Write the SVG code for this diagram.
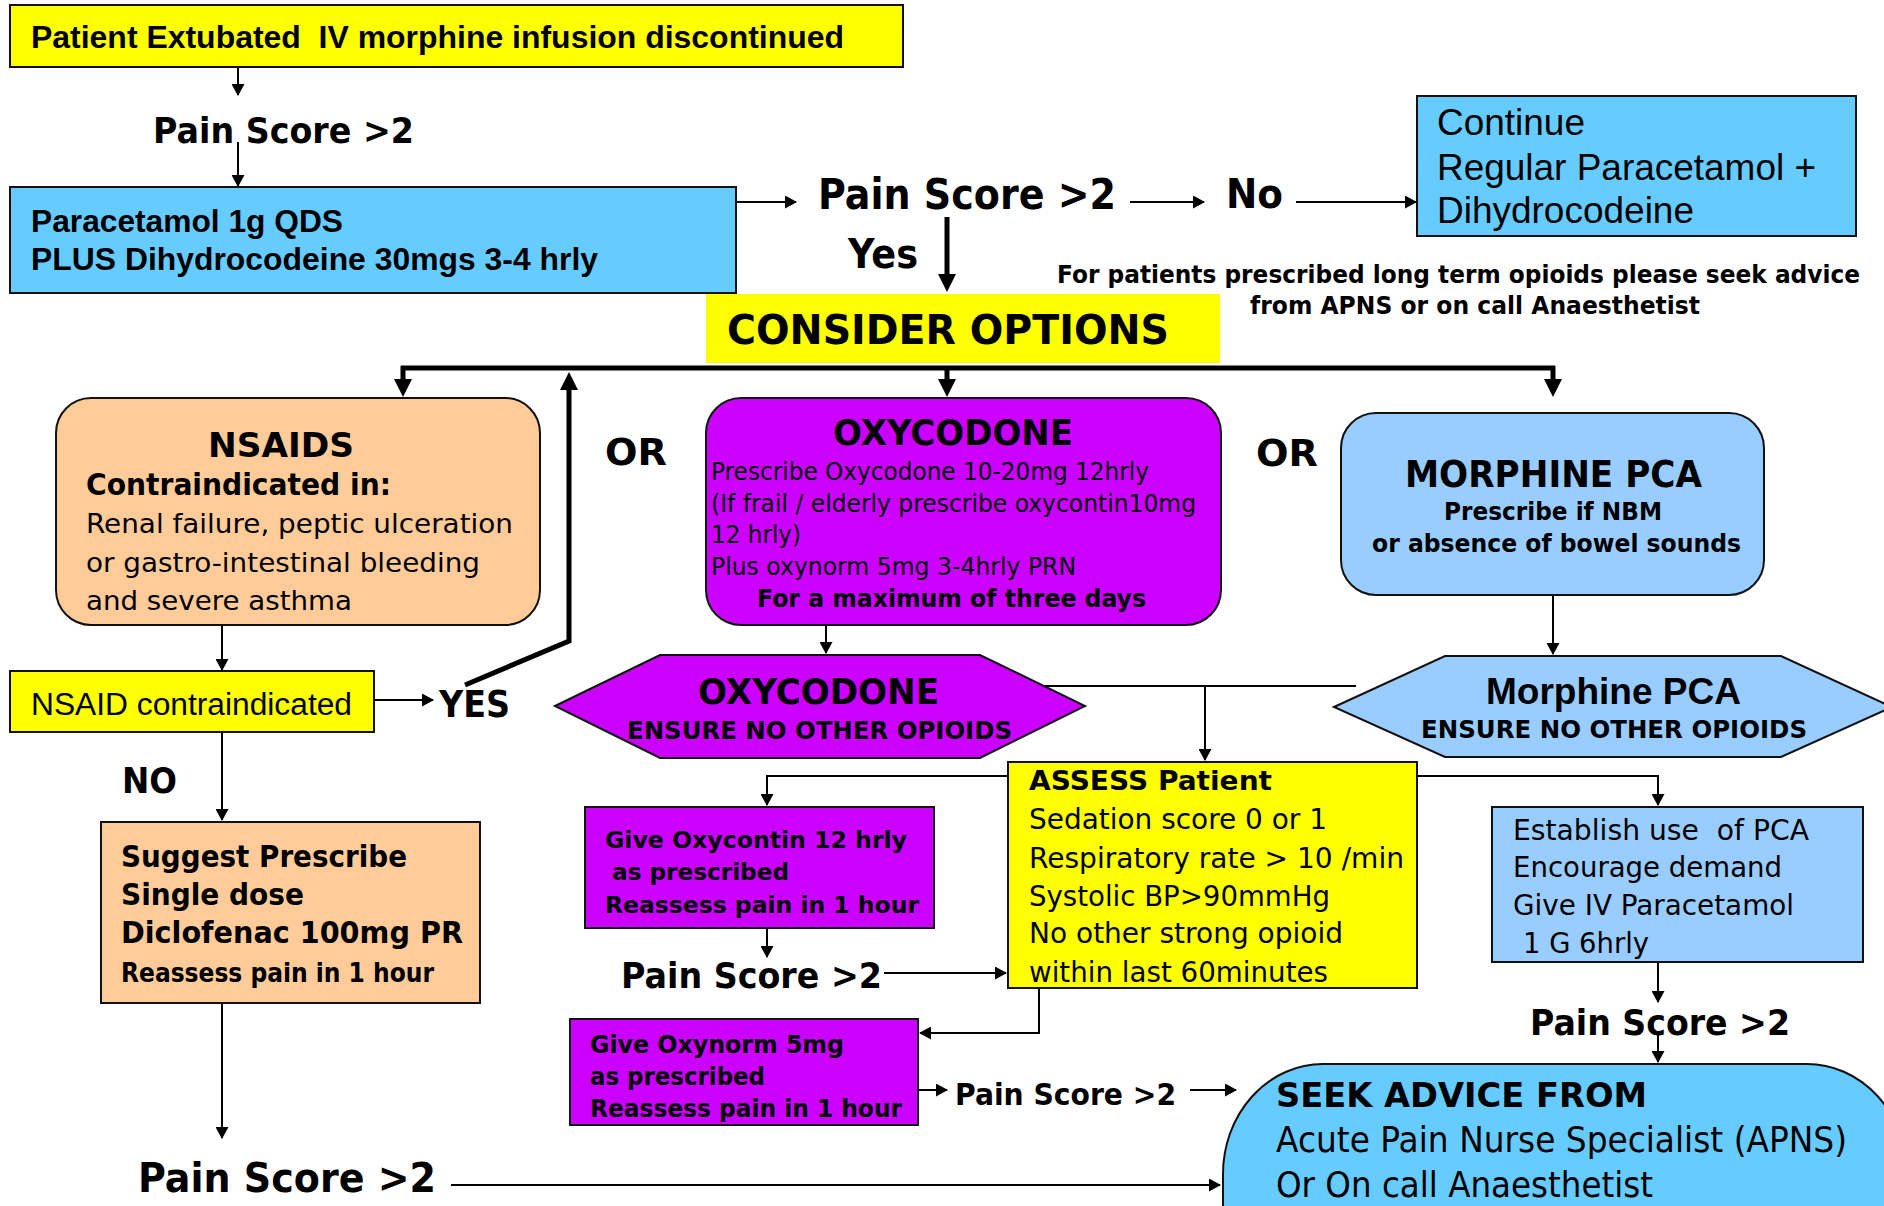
<svg xmlns="http://www.w3.org/2000/svg" width="1884" height="1206" viewBox="0 0 1884 1206">
<style>
.box{stroke:#111;stroke-width:2}
.y{fill:#FFFF00}.b1{fill:#66CCFF}.b2{fill:#99CCFF}.pe{fill:#FFCC99}.pu{fill:#CC00FF}
text{fill:#000}
.v{font-family:"DejaVu Sans",Verdana,sans-serif}
.a{font-family:"Liberation Sans",Arial,sans-serif}
.bd{font-weight:bold}
.ln{fill:none;stroke:#000;stroke-width:2}
.tk{fill:none;stroke:#000;stroke-width:5}
</style>
<defs>
<marker id="a" markerUnits="userSpaceOnUse" markerWidth="12" markerHeight="13" viewBox="0 0 12 13" refX="11" refY="6.5" orient="auto"><path d="M0,0 L12,6.5 L0,13 z" fill="#000"/></marker>
<marker id="A" markerUnits="userSpaceOnUse" markerWidth="18" markerHeight="18" viewBox="0 0 18 18" refX="2" refY="9" orient="auto"><path d="M0,0 L18,9 L0,18 z" fill="#000"/></marker>
</defs>

<g id="connectors">
<line class="ln" x1="238" y1="67" x2="238" y2="95" marker-end="url(#a)"/>
<line class="ln" x1="238" y1="142" x2="238" y2="186" marker-end="url(#a)"/>
<line class="ln" x1="736" y1="202" x2="796" y2="202" marker-end="url(#a)"/>
<line class="ln" x1="1130" y1="202" x2="1204" y2="202" marker-end="url(#a)"/>
<line class="ln" x1="1296" y1="202" x2="1416" y2="202" marker-end="url(#a)"/>
<line class="tk" x1="947" y1="217" x2="947" y2="276" marker-end="url(#A)"/>
<line class="tk" x1="401" y1="368" x2="1555" y2="368"/>
<line class="tk" x1="403" y1="366" x2="403" y2="381" marker-end="url(#A)"/>
<line class="tk" x1="947" y1="368" x2="947" y2="381" marker-end="url(#A)"/>
<line class="tk" x1="1553" y1="366" x2="1553" y2="381" marker-end="url(#A)"/>
<polyline class="tk" points="465,685 569,641 569,388" marker-end="url(#A)"/>
<line class="ln" x1="222" y1="625" x2="222" y2="670" marker-end="url(#a)"/>
<line class="ln" x1="374" y1="700" x2="433" y2="700" marker-end="url(#a)"/>
<line class="ln" x1="222" y1="732" x2="222" y2="820" marker-end="url(#a)"/>
<line class="ln" x1="222" y1="1003" x2="222" y2="1138" marker-end="url(#a)"/>
<line class="ln" x1="451" y1="1185" x2="1220" y2="1185" marker-end="url(#a)"/>
<line class="ln" x1="826" y1="625" x2="826" y2="653" marker-end="url(#a)"/>
<line class="ln" x1="1044" y1="686" x2="1356" y2="686"/>
<line class="ln" x1="1205" y1="686" x2="1205" y2="760" marker-end="url(#a)"/>
<line class="ln" x1="1553" y1="595" x2="1553" y2="654" marker-end="url(#a)"/>
<polyline class="ln" points="1008,776 767,776 767,805" marker-end="url(#a)"/>
<polyline class="ln" points="1417,776 1658,776 1658,805" marker-end="url(#a)"/>
<line class="ln" x1="767" y1="928" x2="767" y2="957" marker-end="url(#a)"/>
<line class="ln" x1="884" y1="973" x2="1006" y2="973" marker-end="url(#a)"/>
<polyline class="ln" points="1039,988 1039,1033 920,1033" marker-end="url(#a)"/>
<line class="ln" x1="918" y1="1090" x2="947" y2="1090" marker-end="url(#a)"/>
<line class="ln" x1="1190" y1="1090" x2="1236" y2="1090" marker-end="url(#a)"/>
<line class="ln" x1="1658" y1="960" x2="1658" y2="1002" marker-end="url(#a)"/>
<line class="ln" x1="1658" y1="1033" x2="1658" y2="1062" marker-end="url(#a)"/>
</g>

<g id="extubated">
<rect class="box y" x="10" y="5" width="893" height="62"/>
<text class="a bd" x="31" y="48" font-size="31" textLength="813" lengthAdjust="spacingAndGlyphs" xml:space="preserve">Patient Extubated  IV morphine infusion discontinued</text>
</g>

<g id="pain1"><text class="v bd" x="153" y="143" font-size="36" textLength="261" lengthAdjust="spacingAndGlyphs">Pain Score &gt;2</text></g>

<g id="paracetamol">
<rect class="box b1" x="10" y="187" width="726" height="106"/>
<text class="a bd" x="31" y="232" font-size="31" textLength="312" lengthAdjust="spacingAndGlyphs">Paracetamol 1g QDS</text>
<text class="a bd" x="31" y="270" font-size="31" textLength="567" lengthAdjust="spacingAndGlyphs">PLUS Dihydrocodeine 30mgs 3-4 hrly</text>
</g>

<g id="pain2"><text class="v bd" x="818" y="209" font-size="42" textLength="298" lengthAdjust="spacingAndGlyphs">Pain Score &gt;2</text></g>
<g id="yes1"><text class="v bd" x="848" y="268" font-size="40" textLength="70" lengthAdjust="spacingAndGlyphs">Yes</text></g>
<g id="no1"><text class="v bd" x="1226" y="208" font-size="41" textLength="57" lengthAdjust="spacingAndGlyphs">No</text></g>

<g id="continue">
<rect class="box b1" x="1417" y="96" width="439" height="140"/>
<text class="a" x="1437" y="135" font-size="37" textLength="148" lengthAdjust="spacingAndGlyphs">Continue</text>
<text class="a" x="1437" y="180" font-size="37" textLength="379" lengthAdjust="spacingAndGlyphs">Regular Paracetamol +</text>
<text class="a" x="1437" y="223" font-size="37" textLength="257" lengthAdjust="spacingAndGlyphs">Dihydrocodeine</text>
</g>

<g id="note">
<text class="v bd" x="1057" y="283" font-size="25" textLength="803" lengthAdjust="spacingAndGlyphs">For patients prescribed long term opioids please seek advice</text>
<text class="v bd" x="1250" y="314" font-size="25" textLength="450" lengthAdjust="spacingAndGlyphs">from APNS or on call Anaesthetist</text>
</g>

<g id="consider">
<rect class="y" x="706" y="294" width="514" height="69"/>
<text class="v bd" x="727" y="344" font-size="40" textLength="442" lengthAdjust="spacingAndGlyphs">CONSIDER OPTIONS</text>
</g>

<g id="nsaids">
<rect class="box pe" x="56" y="398" width="484" height="227" rx="35" ry="35"/>
<text class="v bd" x="208" y="457" font-size="34" textLength="146" lengthAdjust="spacingAndGlyphs">NSAIDS</text>
<text class="v bd" x="86" y="495" font-size="30" textLength="305" lengthAdjust="spacingAndGlyphs">Contraindicated in:</text>
<text class="v" x="86" y="533" font-size="27" textLength="427" lengthAdjust="spacingAndGlyphs">Renal failure, peptic ulceration</text>
<text class="v" x="86" y="572" font-size="27" textLength="394" lengthAdjust="spacingAndGlyphs">or gastro-intestinal bleeding</text>
<text class="v" x="86" y="610" font-size="27" textLength="266" lengthAdjust="spacingAndGlyphs">and severe asthma</text>
</g>

<g id="or1"><text class="v bd" x="605" y="465" font-size="37" textLength="62" lengthAdjust="spacingAndGlyphs">OR</text></g>
<g id="or2"><text class="v bd" x="1256" y="466" font-size="37" textLength="62" lengthAdjust="spacingAndGlyphs">OR</text></g>

<g id="oxycodone">
<rect class="box pu" x="706" y="398" width="515" height="227" rx="35" ry="35"/>
<text class="v bd" x="833" y="445" font-size="35" textLength="240" lengthAdjust="spacingAndGlyphs">OXYCODONE</text>
<text class="v" x="711" y="480" font-size="25" textLength="438" lengthAdjust="spacingAndGlyphs">Prescribe Oxycodone 10-20mg 12hrly</text>
<text class="v" x="711" y="512" font-size="25" textLength="485" lengthAdjust="spacingAndGlyphs">(If frail / elderly prescribe oxycontin10mg</text>
<text class="v" x="711" y="543" font-size="25" textLength="90" lengthAdjust="spacingAndGlyphs">12 hrly)</text>
<text class="v" x="711" y="575" font-size="25" textLength="365" lengthAdjust="spacingAndGlyphs">Plus oxynorm 5mg 3-4hrly PRN</text>
<text class="v bd" x="757" y="607" font-size="25" textLength="389" lengthAdjust="spacingAndGlyphs">For a maximum of three days</text>
</g>

<g id="morphine">
<rect class="box b2" x="1341" y="413" width="423" height="182" rx="35" ry="35"/>
<text class="v bd" x="1405" y="487" font-size="37" textLength="297" lengthAdjust="spacingAndGlyphs">MORPHINE PCA</text>
<text class="v bd" x="1444" y="520" font-size="25" textLength="218" lengthAdjust="spacingAndGlyphs">Prescribe if NBM</text>
<text class="v bd" x="1372" y="552" font-size="25" textLength="369" lengthAdjust="spacingAndGlyphs">or absence of bowel sounds</text>
</g>

<g id="nsaid-contra">
<rect class="box y" x="10" y="671" width="364" height="61"/>
<text class="a" x="31" y="715" font-size="31" textLength="321" lengthAdjust="spacingAndGlyphs">NSAID contraindicated</text>
</g>
<g id="yes2"><text class="v bd" x="439" y="717" font-size="37" textLength="71" lengthAdjust="spacingAndGlyphs">YES</text></g>
<g id="no2"><text class="v bd" x="122" y="793" font-size="36" textLength="55" lengthAdjust="spacingAndGlyphs">NO</text></g>

<g id="oxy-hex">
<polygon class="box pu" points="555,706 660,655 980,655 1085,706 980,758 660,758"/>
<text class="v bd" x="698" y="704" font-size="35" textLength="241" lengthAdjust="spacingAndGlyphs">OXYCODONE</text>
<text class="v bd" x="627" y="739" font-size="24" textLength="385" lengthAdjust="spacingAndGlyphs">ENSURE NO OTHER OPIOIDS</text>
</g>

<g id="morph-hex">
<polygon class="box b2" points="1334,707 1445,656 1781,656 1892,707 1781,757 1445,757"/>
<text class="a bd" x="1486" y="704" font-size="36" textLength="255" lengthAdjust="spacingAndGlyphs">Morphine PCA</text>
<text class="v bd" x="1421" y="738" font-size="24" textLength="386" lengthAdjust="spacingAndGlyphs">ENSURE NO OTHER OPIOIDS</text>
</g>

<g id="suggest">
<rect class="box pe" x="101" y="822" width="379" height="181"/>
<text class="v bd" x="121" y="867" font-size="30" textLength="286" lengthAdjust="spacingAndGlyphs">Suggest Prescribe</text>
<text class="v bd" x="121" y="905" font-size="30" textLength="183" lengthAdjust="spacingAndGlyphs">Single dose</text>
<text class="v bd" x="121" y="943" font-size="30" textLength="342" lengthAdjust="spacingAndGlyphs">Diclofenac 100mg PR</text>
<text class="v bd" x="121" y="982" font-size="26" textLength="313" lengthAdjust="spacingAndGlyphs">Reassess pain in 1 hour</text>
</g>

<g id="oxycontin">
<rect class="box pu" x="585" y="807" width="349" height="121"/>
<text class="v bd" x="605" y="848" font-size="23" textLength="302" lengthAdjust="spacingAndGlyphs">Give Oxycontin 12 hrly</text>
<text class="v bd" x="612" y="880" font-size="23" textLength="177" lengthAdjust="spacingAndGlyphs">as prescribed</text>
<text class="v bd" x="605" y="913" font-size="23" textLength="314" lengthAdjust="spacingAndGlyphs">Reassess pain in 1 hour</text>
</g>

<g id="assess">
<rect class="box y" x="1008" y="762" width="409" height="226"/>
<text class="v bd" x="1029" y="790" font-size="27" textLength="243" lengthAdjust="spacingAndGlyphs">ASSESS Patient</text>
<text class="v" x="1029" y="829" font-size="28" textLength="298" lengthAdjust="spacingAndGlyphs">Sedation score 0 or 1</text>
<text class="v" x="1029" y="868" font-size="28" textLength="375" lengthAdjust="spacingAndGlyphs">Respiratory rate &gt; 10 /min</text>
<text class="v" x="1029" y="906" font-size="28" textLength="301" lengthAdjust="spacingAndGlyphs">Systolic BP&gt;90mmHg</text>
<text class="v" x="1029" y="943" font-size="28" textLength="314" lengthAdjust="spacingAndGlyphs">No other strong opioid</text>
<text class="v" x="1029" y="982" font-size="28" textLength="299" lengthAdjust="spacingAndGlyphs">within last 60minutes</text>
</g>

<g id="establish">
<rect class="box b2" x="1492" y="807" width="371" height="155"/>
<text class="v" x="1513" y="840" font-size="29" textLength="296" lengthAdjust="spacingAndGlyphs" xml:space="preserve">Establish use  of PCA</text>
<text class="v" x="1513" y="877" font-size="29" textLength="269" lengthAdjust="spacingAndGlyphs">Encourage demand</text>
<text class="v" x="1513" y="915" font-size="29" textLength="281" lengthAdjust="spacingAndGlyphs">Give IV Paracetamol</text>
<text class="v" x="1523" y="953" font-size="29" textLength="126" lengthAdjust="spacingAndGlyphs">1 G 6hrly</text>
</g>

<g id="pain3"><text class="v bd" x="621" y="988" font-size="36" textLength="261" lengthAdjust="spacingAndGlyphs">Pain Score &gt;2</text></g>
<g id="pain4"><text class="v bd" x="1530" y="1035" font-size="36" textLength="260" lengthAdjust="spacingAndGlyphs">Pain Score &gt;2</text></g>

<g id="oxynorm">
<rect class="box pu" x="570" y="1019" width="348" height="106"/>
<text class="v bd" x="590" y="1053" font-size="24" textLength="254" lengthAdjust="spacingAndGlyphs">Give Oxynorm 5mg</text>
<text class="v bd" x="590" y="1085" font-size="24" textLength="175" lengthAdjust="spacingAndGlyphs">as prescribed</text>
<text class="v bd" x="590" y="1117" font-size="24" textLength="312" lengthAdjust="spacingAndGlyphs">Reassess pain in 1 hour</text>
</g>

<g id="pain6"><text class="v bd" x="955" y="1105" font-size="30" textLength="221" lengthAdjust="spacingAndGlyphs">Pain Score &gt;2</text></g>
<g id="pain5"><text class="v bd" x="138" y="1192" font-size="41" textLength="298" lengthAdjust="spacingAndGlyphs">Pain Score &gt;2</text></g>

<g id="seek">
<rect class="box b1" x="1223" y="1064" width="684" height="260" rx="100" ry="110"/>
<text class="v bd" x="1276" y="1107" font-size="34" textLength="371" lengthAdjust="spacingAndGlyphs">SEEK ADVICE FROM</text>
<text class="v" x="1276" y="1152" font-size="35" textLength="571" lengthAdjust="spacingAndGlyphs">Acute Pain Nurse Specialist (APNS)</text>
<text class="v" x="1276" y="1197" font-size="35" textLength="377" lengthAdjust="spacingAndGlyphs">Or On call Anaesthetist</text>
</g>
</svg>
